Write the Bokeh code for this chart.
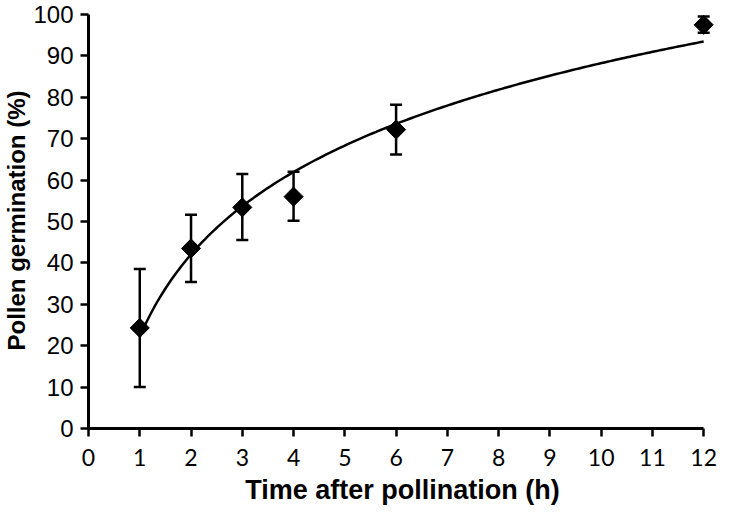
import numpy as np
from bokeh.plotting import figure
from bokeh.models import Whisker, ColumnDataSource, TeeHead, FixedTicker, Range1d
from bokeh.embed import file_html
from bokeh.resources import INLINE

# Data
hours = [1, 2, 3, 4, 6, 12]
germination = [24.3, 43.5, 53.4, 56.0, 72.2, 97.5]
err_upper = [38.5, 51.6, 61.5, 62.0, 78.2, 99.5]
err_lower = [10.0, 35.4, 45.5, 50.2, 66.2, 95.6]
x_ticks = list(range(0, 13))
y_ticks = list(range(0, 101, 10))

# Logarithmic trendline fitted to the data (y = a ln x + b)
a, b = np.polyfit(np.log(hours), germination, 1)
xc = np.linspace(min(hours), max(hours), 200)
yc = a * np.log(xc) + b

p = figure(width=717, height=515,
           x_range=Range1d(0, 12.25), y_range=Range1d(0, 100.48),
           output_backend="svg", toolbar_location=None,
           min_border_left=79, min_border_right=1, min_border_top=12, min_border_bottom=87)
p.outline_line_color = None
p.grid.visible = False
p.background_fill_color = "white"
p.border_fill_color = "white"

src = ColumnDataSource(dict(x=hours, upper=err_upper, lower=err_lower))
w = Whisker(base="x", upper="upper", lower="lower", source=src,
            line_width=2.5, line_color="black",
            upper_head=TeeHead(size=12, line_width=2.5, line_color="black"),
            lower_head=TeeHead(size=12, line_width=2.5, line_color="black"))
p.add_layout(w)

p.line(xc, yc, line_width=2.5, line_color="black")
p.scatter(hours, germination, marker="square", angle=np.pi / 4, size=13.5,
          fill_color="black", line_color="black")

for ax in (p.xaxis[0], p.yaxis[0]):
    ax.axis_line_width = 3
    ax.axis_line_color = "black"
    ax.major_tick_out = 8
    ax.major_tick_in = 0
    ax.major_tick_line_width = 2.5
    ax.major_tick_line_color = "black"
    ax.minor_tick_line_color = None
    ax.major_label_text_color = "black"
    ax.axis_label_text_color = "black"
    ax.axis_label_text_font_style = "bold"

p.xaxis.ticker = FixedTicker(ticks=x_ticks)
p.xaxis.bounds = (0, 12)
p.yaxis.ticker = FixedTicker(ticks=y_ticks)
p.yaxis.bounds = (0, 100)

p.xaxis.axis_label = "Time after pollination (h)"
p.xaxis.axis_label_text_font = "Liberation Sans"
p.xaxis.axis_label_text_font_size = "27px"
p.xaxis.major_label_text_font = "Lato"
p.xaxis.major_label_text_font_size = "23px"
p.xaxis.major_label_standoff = 12
p.xaxis.axis_label_standoff = 6

p.yaxis.axis_label = "Pollen germination (%)"
p.yaxis.axis_label_text_font = "Liberation Sans"
p.yaxis.axis_label_text_font_size = "24px"
p.yaxis.major_label_text_font = "Liberation Sans"
p.yaxis.major_label_text_font_size = "24px"
p.yaxis.major_label_standoff = 7
p.yaxis.axis_label_standoff = 0

open("out.html", "w").write(file_html(p, INLINE))
